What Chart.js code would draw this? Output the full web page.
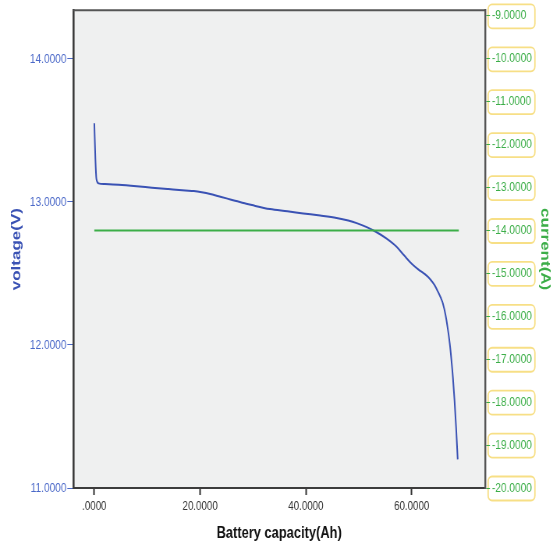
<!DOCTYPE html>
<html>
<head>
<meta charset="utf-8">
<script src="https://cdn.jsdelivr.net/npm/chart.js@4.4.1/dist/chart.umd.min.js"></script>
<style>
  html, body { margin: 0; padding: 0; background: #fff; overflow: hidden; }
  /* the reference is a horizontally squeezed picture, so the canvas is drawn wide and shown narrow */
  #batteryChart { width: 553px !important; height: 548px !important; }
</style>
</head>
<body>
<canvas id="batteryChart" width="709" height="548"></canvas>
<script>
// values
const capacity = [0, 0.2, 0.4, 0.8, 2, 4.6, 8, 10.9, 14, 17.2, 18.8, 20.3, 21.9, 23.5, 25, 26.6, 28.2, 29.8, 33.2, 36.5, 39.5, 42.7, 45.8, 48, 49.6, 51.5, 53.3, 55.2, 57.1, 58.6, 60, 61.3, 62.5, 63.5, 64.3, 65, 65.5, 65.9, 66.4, 66.8, 67.2, 67.5, 67.8, 68.1, 68.4, 68.7];
const voltage = [13.55, 13.3, 13.16, 13.13, 13.125, 13.12, 13.11, 13.1, 13.09, 13.08, 13.076, 13.068, 13.056, 13.04, 13.025, 13.008, 12.993, 12.978, 12.95, 12.935, 12.92, 12.905, 12.888, 12.87, 12.852, 12.824, 12.79, 12.745, 12.688, 12.625, 12.568, 12.527, 12.495, 12.46, 12.42, 12.37, 12.33, 12.29, 12.21, 12.12, 12.01, 11.9, 11.77, 11.61, 11.42, 11.2];
const currentCapacity = [0, 10, 20, 30, 40, 50, 60, 68.9];
const current = [-14, -14, -14, -14, -14, -14, -14, -14];

const capacityTicks = [0, 20, 40, 60];
const voltageTicks = [11, 12, 13, 14];
const currentTicks = [-20, -19, -18, -17, -16, -15, -14, -13, -12, -11, -10, -9];

const blue = '#3a52b4';
const green = '#3cae48';
const sans = "'Liberation Sans', Arial, sans-serif";

const fmt = v => (v === 0 ? '.0000' : v.toFixed(4));

const framePlugin = {
  id: 'frame',
  beforeDraw(chart) {
    const { ctx, chartArea: a } = chart;
    ctx.save();
    ctx.fillStyle = '#eff0f0';
    ctx.fillRect(a.left, a.top, a.right - a.left, a.bottom - a.top);
    // yellow rounded boxes round the current labels
    const s = chart.scales.y1;
    ctx.strokeStyle = '#f7df86';
    ctx.lineWidth = 1.8;
    s.ticks.forEach(t => {
      const y = s.getPixelForValue(t.value);
      ctx.beginPath();
      ctx.roundRect(s.left + 4, y - 11.5, 60, 24, 5);
      ctx.stroke();
    });
    ctx.restore();
  },
  afterDraw(chart) {
    const { ctx, chartArea: a } = chart;
    ctx.save();
    ctx.strokeStyle = '#555';
    ctx.lineWidth = 2;
    ctx.beginPath();
    ctx.moveTo(a.left, a.top);
    ctx.lineTo(a.right, a.top);
    ctx.stroke();
    ctx.restore();
  }
};

new Chart(document.getElementById('batteryChart'), {
  type: 'line',
  data: {
    datasets: [
      {
        label: 'current(A)',
        data: currentCapacity.map((x, i) => ({ x, y: current[i] })),
        yAxisID: 'y1',
        borderColor: green,
        borderWidth: 2,
        pointRadius: 0,
        order: 0
      },
      {
        label: 'voltage(V)',
        data: capacity.map((x, i) => ({ x, y: voltage[i] })),
        yAxisID: 'y',
        borderColor: blue,
        borderWidth: 2,
        pointRadius: 0,
        cubicInterpolationMode: 'monotone',
        order: 1
      }
    ]
  },
  options: {
    responsive: false,
    animation: false,
    devicePixelRatio: 1,
    layout: { padding: { top: 8, left: 0, right: 0, bottom: 0 } },
    plugins: { legend: { display: false }, tooltip: { enabled: false } },
    scales: {
      x: {
        type: 'linear',
        min: -3.97,
        max: 73.86,
        afterBuildTicks: s => { s.ticks = capacityTicks.map(value => ({ value })); },
        afterFit: s => { s.height = 60; },
        grid: { drawOnChartArea: false, tickLength: 7, tickColor: '#333', tickWidth: 2 },
        border: { color: '#3c3c3c', width: 2 },
        ticks: { color: '#333', padding: 4, font: { family: sans, size: 12.5 }, callback: fmt, maxRotation: 0 },
        title: { display: true, text: 'Battery capacity(Ah)', color: '#111', padding: { top: 0, bottom: 5 }, font: { family: sans, size: 16.5, weight: 'bold' } }
      },
      y: {
        position: 'left',
        min: 11,
        max: 14.34,
        afterBuildTicks: s => { s.ticks = voltageTicks.map(value => ({ value })); },
        afterFit: s => { s.width = 94; },
        grid: { drawOnChartArea: false, tickLength: 7.7, tickColor: '#4a68c8' },
        border: { color: '#3c3c3c', width: 2.6 },
        ticks: { color: '#4a68c8', padding: 1, font: { family: sans, size: 13 }, callback: fmt },
        title: { display: true, text: 'voltage(V)', color: blue, padding: { top: 11, bottom: 0 }, font: { family: sans, size: 17, weight: 'bold' } }
      },
      y1: {
        position: 'right',
        min: -20,
        max: -8.87,
        afterBuildTicks: s => { s.ticks = currentTicks.map(value => ({ value })); },
        afterFit: s => { s.width = 87.2; },
        grid: { drawOnChartArea: false, tickLength: 6.4, tickColor: green },
        border: { color: '#555', width: 2.4 },
        ticks: { color: green, padding: 2.5, font: { family: sans, size: 13 }, callback: v => v.toFixed(4) },
        title: { display: true, text: 'current(A)', color: green, padding: { top: 0, bottom: 0 }, font: { family: sans, size: 17, weight: 'bold' } }
      }
    }
  },
  plugins: [framePlugin]
});
</script>
</body>
</html>
